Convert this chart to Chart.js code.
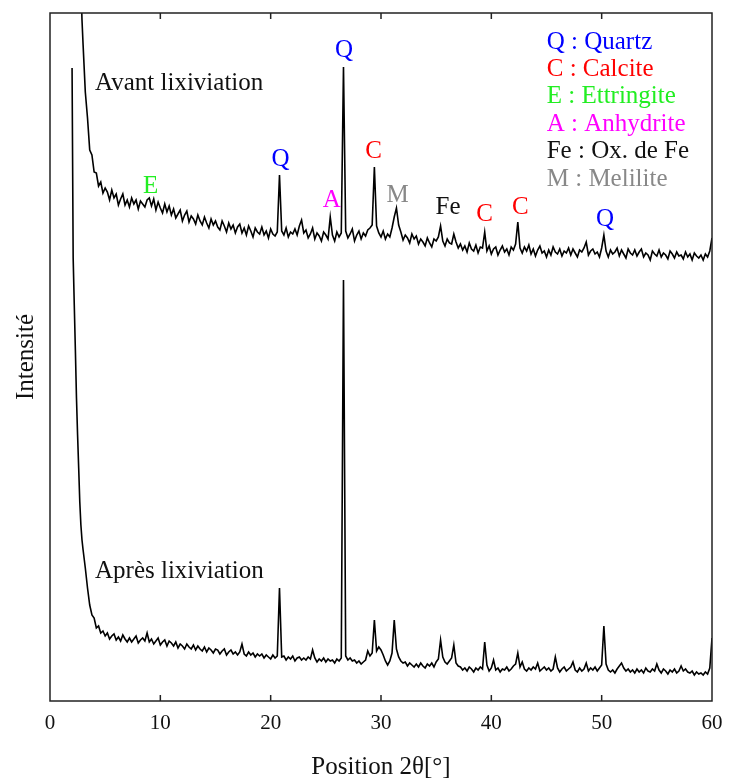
<!DOCTYPE html>
<html>
<head>
<meta charset="utf-8">
<script src="https://cdn.jsdelivr.net/npm/chart.js@4.4.0/dist/chart.umd.min.js"></script>
<style>
html, body { margin: 0; padding: 0; background: #fff; }
#wrap { width: 733px; height: 782px; }
</style>
</head>
<body>
<div id="wrap"><canvas id="xrd-chart" width="733" height="782"></canvas></div>
<script>
// Diffractogrammes DRX avant / après lixiviation

// grille 2θ : pas de 0.1° de 2.0 à 3.0°, puis pas de 0.2° de 3.2 à 60°
const gridFine = { start: 2.0, step: 0.1, count: 11 };
const gridMain = { start: 3.2, step: 0.2, count: 285 };

const xTicks = [0, 10, 20, 30, 40, 50, 60];

// intensités (u.a.) - échantillon avant lixiviation
const avantFine = [null, null, null, null, null, null, null, null, 720, 681, 656];
const avantMain = [
    609, 583, 551, 546, 529, 528, 515, 519, 508, 513,   // 3.2
    509, 501, 511, 503, 507, 496, 502, 507, 496, 501,   // 5.2
    494, 503, 497, 501, 492, 500, 497, 494, 501, 503,   // 7.2
    495, 502, 491, 499, 493, 488, 497, 489, 495, 486,   // 9.2
    492, 483, 487, 491, 480, 486, 490, 479, 485, 482,   // 11.2
    477, 486, 480, 476, 484, 478, 473, 482, 476, 480,   // 13.2
    474, 471, 480, 475, 469, 478, 472, 476, 468, 474,   // 15.2
    477, 468, 473, 466, 475, 470, 464, 473, 469, 467,   // 17.2
    474, 466, 470, 463, 472, 467, 465, 469, 526, 470,   // 19.2
    466, 473, 464, 469, 467, 472, 466, 475, 481, 468,   // 21.2
    471, 463, 467, 473, 462, 468, 465, 460, 469, 466,   // 23.2
    462, 484, 466, 460, 469, 464, 468, 634, 470, 463,   // 25.2
    467, 472, 460, 466, 470, 462, 468, 465, 471, 473,   // 27.2
    476, 534, 475, 468, 464, 470, 462, 467, 464, 473,   // 29.2
    484, 493, 476, 469, 461, 466, 463, 458, 467, 462,   // 31.2
    465, 457, 462, 459, 455, 463, 458, 454, 462, 460,   // 33.2
    464, 475, 460, 455, 462, 458, 457, 467, 459, 453,   // 35.2
    457, 451, 455, 449, 458, 452, 450, 456, 448, 454,   // 37.2
    453, 469, 450, 455, 447, 452, 454, 446, 451, 455,   // 39.2
    449, 452, 446, 454, 451, 457, 479, 453, 448, 454,   // 41.2
    450, 456, 447, 452, 445, 451, 455, 448, 450, 444,   // 43.2
    451, 446, 454, 449, 447, 452, 445, 450, 448, 453,   // 45.2
    446, 452, 448, 444, 451, 449, 453, 459, 446, 450,   // 47.2
    452, 447, 449, 444, 453, 466, 450, 444, 451, 447,   // 49.2
    449, 453, 445, 451, 447, 443, 452, 448, 446, 451,   // 51.2
    445, 449, 452, 444, 448, 446, 441, 450, 447, 445,   // 53.2
    451, 444, 448, 446, 442, 450, 447, 443, 449, 445,   // 55.2
    446, 442, 449, 444, 447, 441, 448, 445, 443, 446,   // 57.2
    441, 447, 444, 450, 463                             // 59.2
];

// intensités (u.a.) - échantillon après lixiviation
const apresFine = [633, 443, 396, 351, 303, 266, 233, 199, 176, 161, 151];
const apresMain = [
    133, 113, 96, 86, 83, 73, 75, 68, 70, 65,   // 3.2
    68, 62, 65, 67, 61, 64, 60, 66, 62, 59,     // 5.2
    63, 59, 62, 65, 58, 61, 63, 60, 68, 59,     // 7.2
    62, 57, 60, 63, 56, 59, 61, 55, 60, 58,     // 9.2
    55, 59, 53, 57, 55, 52, 57, 54, 52, 56,     // 11.2
    51, 55, 52, 50, 54, 49, 53, 51, 48, 52,     // 13.2
    51, 47, 50, 52, 46, 49, 51, 47, 49, 46,     // 15.2
    49, 57, 47, 45, 49, 46, 48, 44, 47, 45,     // 17.2
    47, 43, 46, 44, 42, 46, 43, 45, 113, 44,    // 19.2
    45, 41, 44, 42, 45, 40, 43, 44, 41, 43,     // 21.2
    41, 44, 42, 51, 43, 39, 42, 40, 43, 39,     // 23.2
    42, 40, 41, 38, 42, 40, 43, 421, 45, 41,    // 25.2
    43, 40, 41, 38, 40, 37, 39, 41, 50, 45,     // 27.2
    48, 81, 50, 54, 51, 46, 40, 36, 40, 48,     // 29.2
    81, 52, 44, 40, 38, 39, 35, 38, 36, 34,     // 31.2
    37, 34, 38, 35, 33, 37, 35, 38, 34, 39,     // 33.2
    42, 61, 44, 39, 37, 40, 43, 56, 38, 35,     // 35.2
    34, 31, 33, 30, 34, 32, 29, 33, 31, 34,     // 37.2
    32, 59, 36, 30, 33, 41, 31, 33, 29, 32,     // 39.2
    31, 34, 30, 32, 35, 37, 48, 34, 39, 32,     // 41.2
    30, 33, 31, 34, 32, 38, 30, 32, 34, 31,     // 43.2
    33, 30, 32, 44, 33, 29, 32, 34, 30, 32,     // 45.2
    34, 39, 31, 29, 33, 30, 32, 38, 30, 33,     // 47.2
    31, 34, 30, 33, 36, 75, 37, 31, 29, 31,     // 49.2
    28, 32, 35, 38, 33, 30, 32, 29, 31, 28,     // 51.2
    32, 29, 31, 28, 33, 30, 29, 32, 30, 37,     // 53.2
    31, 28, 32, 30, 27, 31, 29, 32, 28, 30,     // 55.2
    35, 30, 32, 29, 28, 30, 26, 29, 27, 28,     // 57.2
    26, 29, 27, 33, 63                          // 59.2
];

// repères des pics et légende des phases (position en 2θ / intensité)
const annotations = [
    { text: 'Avant lixiviation', x: 4.08, y: 611, color: '#111111', align: 'left' },
    { text: 'Après lixiviation', x: 4.08, y: 123, color: '#111111', align: 'left' },
    { text: 'E', x: 9.11, y: 508, color: '#22ee22', align: 'center' },
    { text: 'Q', x: 20.89, y: 535, color: '#0000ff', align: 'center' },
    { text: 'A', x: 25.53, y: 494, color: '#ff00ff', align: 'center' },
    { text: 'Q', x: 26.65, y: 644, color: '#0000ff', align: 'center' },
    { text: 'C', x: 29.32, y: 543, color: '#ff0000', align: 'center' },
    { text: 'M', x: 31.5, y: 499, color: '#888888', align: 'center' },
    { text: 'Fe', x: 36.07, y: 487, color: '#111111', align: 'center' },
    { text: 'C', x: 39.38, y: 480, color: '#ff0000', align: 'center' },
    { text: 'C', x: 42.64, y: 487, color: '#ff0000', align: 'center' },
    { text: 'Q', x: 50.3, y: 475, color: '#0000ff', align: 'center' },
    { text: 'Q : Quartz', x: 45.02, y: 652, color: '#0000ff', align: 'left' },
    { text: 'C : Calcite', x: 45.02, y: 625, color: '#ff0000', align: 'left' },
    { text: 'E : Ettringite', x: 45.02, y: 598, color: '#22ee22', align: 'left' },
    { text: 'A : Anhydrite', x: 45.02, y: 570, color: '#ff00ff', align: 'left' },
    { text: 'Fe : Ox. de Fe', x: 45.02, y: 543, color: '#111111', align: 'left' },
    { text: 'M : Melilite', x: 45.02, y: 515, color: '#888888', align: 'left' }
];

const serif = '"Liberation Serif", "Times New Roman", serif';

// construction de la grille 2θ
const twoTheta = [];
for (let i = 0; i < gridFine.count; i++) {
    twoTheta.push(+(gridFine.start + i * gridFine.step).toFixed(1));
}
for (let i = 0; i < gridMain.count; i++) {
    twoTheta.push(+(gridMain.start + i * gridMain.step).toFixed(1));
}

const avant = avantFine.concat(avantMain);
const apres = apresFine.concat(apresMain);

function toPoints(values) {
    return twoTheta.map((x, i) => ({ x: x, y: values[i] }));
}

// cadre, graduations intérieures et textes
const xrdDecor = {
    id: 'xrdDecor',
    afterDatasetsDraw(chart) {
        const { ctx, chartArea: a, scales: { x, y } } = chart;
        ctx.save();
        ctx.strokeStyle = '#222';
        ctx.lineWidth = 1.5;
        ctx.strokeRect(a.left, a.top, a.right - a.left, a.bottom - a.top);

        xTicks.slice(1, -1).forEach(v => {
            const px = x.getPixelForValue(v);
            ctx.beginPath();
            ctx.moveTo(px, a.bottom);
            ctx.lineTo(px, a.bottom - 6);
            ctx.moveTo(px, a.top);
            ctx.lineTo(px, a.top + 6);
            ctx.stroke();
        });

        ctx.font = '25px ' + serif;
        ctx.textBaseline = 'alphabetic';
        annotations.forEach(t => {
            ctx.fillStyle = t.color;
            ctx.textAlign = t.align;
            ctx.fillText(t.text, x.getPixelForValue(t.x), y.getPixelForValue(t.y));
        });
        ctx.restore();
    }
};

new Chart(document.getElementById('xrd-chart'), {
    type: 'line',
    data: {
        datasets: [
            {
                label: 'Avant lixiviation',
                data: toPoints(avant),
                borderColor: '#000',
                borderWidth: 1.6,
                pointRadius: 0,
                tension: 0,
                spanGaps: false
            },
            {
                label: 'Après lixiviation',
                data: toPoints(apres),
                borderColor: '#000',
                borderWidth: 1.6,
                pointRadius: 0,
                tension: 0
            }
        ]
    },
    options: {
        responsive: false,
        animation: false,
        layout: { padding: { top: 13, right: 21, bottom: 0, left: 0 } },
        plugins: {
            legend: { display: false },
            tooltip: { enabled: false }
        },
        scales: {
            x: {
                type: 'linear',
                min: 0,
                max: 60,
                afterBuildTicks: s => { s.ticks = xTicks.map(v => ({ value: v })); },
                grid: { display: false },
                border: { display: false },
                ticks: { color: '#111', padding: 2, maxRotation: 0, font: { family: serif, size: 21 } },
                title: {
                    display: true,
                    text: 'Position 2θ[°]',
                    color: '#111',
                    padding: 0,
                    font: { family: serif, size: 25 }
                },
                afterFit: s => { s.height = 81; }
            },
            y: {
                min: 0,
                max: 688,
                grid: { display: false },
                border: { display: false },
                ticks: { display: false },
                title: {
                    display: true,
                    text: 'Intensité',
                    color: '#111',
                    padding: { top: 11, bottom: 0 },
                    font: { family: serif, size: 25 }
                },
                afterFit: s => { s.width = 50; }
            }
        }
    },
    plugins: [xrdDecor]
});
</script>
</body>
</html>
